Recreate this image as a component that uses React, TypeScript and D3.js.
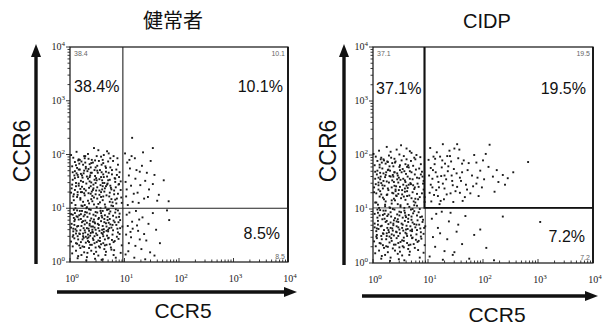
import React from "react";
import * as d3 from "d3";

// ---- data (log10 fluorescence: [CCR5, CCR6]) ----
const panelTitles = ["健常者", "CIDP"];
const xAxisLabel = "CCR5";
const yAxisLabel = "CCR6";
const tickExponents = [0, 1, 2, 3, 4];
const quadrantPercentsHealthy = ["38.4%", "10.1%", "8.5%"];
const quadrantPercentsCIDP = ["37.1%", "19.5%", "7.2%"];
const cornerValuesHealthy = ["38.4", "10.1", "8.5"];
const cornerValuesCIDP = ["37.1", "19.5", "7.2"];
const gateHealthy = [0.97, 1.0];
const gateCIDP = [0.95, 1.02];

const healthyLL = [
[0.12,0.85],[0.34,0.62],[0.57,0.91],[0.08,0.44],[0.71,0.73],[0.26,0.18],[0.49,0.37],[0.88,0.55],[0.15,0.67],[0.63,0.24],
[0.39,0.81],[0.05,0.29],[0.77,0.41],[0.22,0.95],[0.54,0.58],[0.31,0.09],[0.92,0.78],[0.18,0.52],[0.67,0.66],[0.44,0.15],
[0.03,0.71],[0.81,0.22],[0.29,0.47],[0.59,0.83],[0.13,0.34],[0.74,0.94],[0.41,0.56],[0.95,0.31],[0.24,0.76],[0.52,0.12],
[0.36,0.68],[0.09,0.91],[0.68,0.49],[0.47,0.27],[0.19,0.59],[0.85,0.69],[0.58,0.04],[0.27,0.88],[0.73,0.33],[0.11,0.21],
[0.45,0.74],[0.62,0.61],[0.33,0.39],[0.06,0.57],[0.79,0.86],[0.21,0.13],[0.55,0.45],[0.89,0.43],[0.38,0.97],[0.16,0.79],
[0.66,0.19],[0.28,0.55],[0.51,0.71],[0.02,0.38],[0.76,0.64],[0.43,0.88],[0.14,0.07],[0.61,0.35],[0.35,0.26],[0.83,0.92],
[0.25,0.63],[0.48,0.53],[0.07,0.82],[0.69,0.78],[0.42,0.44],[0.93,0.17],[0.17,0.31],[0.56,0.95],[0.31,0.73],[0.78,0.51],
[0.53,0.29],[0.2,0.89],[0.64,0.87],[0.1,0.61],[0.46,0.06],[0.87,0.62],[0.37,0.49],[0.6,0.67],[0.23,0.42],[0.75,0.27],
[0.04,0.16],[0.32,0.84],[0.7,0.57],[0.5,0.92],[0.14,0.48],[0.9,0.84],[0.4,0.32],[0.65,0.13],[0.27,0.7],[0.57,0.76],
[0.19,0.26],[0.8,0.37],[0.35,0.58],[0.08,0.69],[0.61,0.48],[0.44,0.79],[0.72,0.9],[0.29,0.36],[0.96,0.66],[0.52,0.63],
[0.13,0.96],[0.67,0.32],[0.39,0.21],[0.84,0.08],[0.22,0.74],[0.58,0.54],[0.06,0.5],[0.47,0.86],[0.74,0.7],[0.33,0.51],
[0.55,0.39],[0.17,0.87],[0.86,0.47],[0.42,0.66],[0.11,0.35],[0.63,0.8],[0.3,0.03],[0.79,0.59],[0.48,0.19],[0.24,0.53],
[0.7,0.44],[0.37,0.77],[0.02,0.64],[0.59,0.6],[0.91,0.52],[0.26,0.28],[0.45,0.64],[0.15,0.11],[0.68,0.97],[0.53,0.82],
[0.34,0.46],[0.82,0.74],[0.09,0.79],[0.64,0.42],[0.41,0.6],[0.2,0.37],[0.76,0.23],[0.5,0.5],[0.28,0.93],[0.57,0.33],
[0.12,0.58],[0.88,0.96],[0.43,0.41],[0.66,0.72],[0.32,0.17],[0.05,0.88],[0.72,0.63],[0.38,0.54],[0.21,0.67],[0.6,0.05],
[0.46,0.72],[0.25,0.45],[0.62,0.56],[0.8,0.13],[0.36,0.9]
];
const healthyUL = [
[0.14,1.62],[0.38,1.27],[0.61,1.84],[0.07,1.15],[0.83,1.49],[0.27,1.93],[0.52,1.08],[0.45,1.71],[0.19,1.36],[0.72,1.22],
[0.33,1.55],[0.04,1.78],[0.66,1.41],[0.91,1.67],[0.23,1.04],[0.57,1.96],[0.11,1.47],[0.79,1.88],[0.41,1.13],[0.29,1.74],
[0.68,1.59],[0.16,1.91],[0.48,1.33],[0.86,1.18],[0.36,1.82],[0.02,1.29],[0.59,1.52],[0.25,1.65],[0.74,1.76],[0.43,1.44],
[0.09,1.69],[0.54,1.25],[0.31,1.02],[0.77,1.63],[0.2,1.51],[0.64,1.07],[0.4,1.9],[0.93,1.34],[0.13,1.21],[0.5,1.79],
[0.35,1.38],[0.71,2.02],[0.06,1.94],[0.58,1.67],[0.26,1.28],[0.82,1.56],[0.46,1.6],[0.17,1.83],[0.63,1.31],[0.39,1.48],
[0.88,1.81],[0.22,1.4],[0.53,1.88],[0.1,1.06],[0.69,1.46],[0.32,1.69],[0.95,1.1],[0.44,1.2],[0.15,1.58],[0.76,1.35],
[0.28,1.85],[0.6,1.15],[0.05,1.53],[0.49,1.97],[0.81,1.26],[0.37,1.61],[0.18,1.72],[0.66,1.75],[0.42,1.34],[0.24,1.12],
[0.56,1.43],[0.12,2.05],[0.73,1.53],[0.34,1.92],[0.9,1.58],[0.47,1.26],[0.21,1.87],[0.62,1.99],[0.03,1.37],[0.78,1.11],
[0.3,1.46],[0.55,1.71],[0.14,1.3],[0.85,1.72],[0.4,1.66],[0.67,1.24],[0.09,1.86],[0.5,1.39],[0.26,1.97],[0.74,1.42],
[0.19,1.19],[0.61,1.63],[0.35,1.09],[0.8,1.97],[0.45,1.53],[0.08,1.61],[0.7,1.87],[0.29,1.33],[0.52,2.08],[0.16,1.46],
[0.93,1.5],[0.38,1.76],[0.64,1.37],[0.23,1.57],[0.02,1.99],[0.57,1.21],[0.84,1.39],[0.33,2.01],[0.48,1.56],[0.13,1.75],
[0.71,1.66],[0.27,1.24],[0.42,1.85],[0.6,1.47],[0.07,1.26],[0.87,1.93],[0.36,1.5],[0.2,1.64],[0.54,1.33],[0.76,1.05],
[0.44,2.12],[0.11,1.41],[0.65,1.78],[0.31,1.59],[0.83,1.16],[0.5,1.7],[0.24,1.81],[0.59,1.35],[0.15,1.89],[0.39,1.17],
[0.68,2.06],[0.05,1.67],[0.47,1.47],[0.73,1.29],[0.34,1.73],[0.57,1.58],[0.22,1.3],[0.89,1.44]
];
const healthyCore = [
[0.21,1.05],[0.47,0.93],[0.73,1.12],[0.09,1.34],[0.36,0.71],[0.62,1.58],[0.15,0.42],[0.84,0.98],[0.29,1.77],[0.55,0.27],
[0.41,1.23],[0.06,0.62],[0.69,0.84],[0.24,1.49],[0.51,1.66],[0.88,1.27],[0.18,0.95],[0.6,0.52],[0.33,1.14],[0.77,1.71],
[0.11,1.8],[0.45,0.35],[0.65,1.02],[0.27,0.59],[0.92,0.63],[0.38,1.41],[0.03,1.1],[0.57,1.3],[0.8,0.77],[0.2,0.8],
[0.49,1.52],[0.14,1.25],[0.71,0.45],[0.35,0.98],[0.6,1.9],[0.08,0.76],[0.42,0.55],[0.86,1.62],[0.26,1.36],[0.53,0.69],
[0.75,1.38],[0.17,0.53],[0.39,1.84],[0.63,0.74],[0.04,1.44],[0.3,1.0],[0.82,0.39],[0.5,1.18],[0.23,0.29],[0.68,1.44],
[0.12,1.65],[0.44,1.07],[0.79,1.04],[0.32,0.44],[0.58,0.86],[0.9,1.45],[0.19,1.16],[0.47,1.76],[0.7,0.6],[0.07,0.97],
[0.36,1.58],[0.61,1.22],[0.25,0.85],[0.85,0.83],[0.13,0.66],[0.52,0.4],[0.4,1.31],[0.74,1.93],[0.28,1.97],[0.56,1.0],
[0.02,0.89],[0.66,1.68],[0.31,0.63],[0.94,1.2],[0.47,0.6],[0.16,1.42],[0.78,0.69],[0.37,0.32],[0.6,1.41],[0.22,1.61],
[0.83,1.55],[0.1,1.0],[0.54,1.54],[0.34,1.28],[0.71,0.98],[0.45,0.48],[0.05,0.47],[0.64,0.31],[0.26,1.7],[0.89,0.74],
[0.42,0.75],[0.18,1.9],[0.58,1.81],[0.76,1.17],[0.31,0.92],[0.09,1.56],[0.49,1.02],[0.67,0.58],[0.38,1.66],[0.24,0.48],
[0.6,0.95],[0.14,0.84],[0.81,1.33],[0.43,1.37],[0.27,1.06],[0.7,1.52],[0.52,0.8],[0.06,1.22],[0.35,0.37],[0.91,0.9],
[0.2,1.3],[0.55,1.11],[0.73,0.8],[0.39,0.66],[0.11,0.53],[0.63,1.47],[0.46,1.89],[0.28,0.77],[0.85,1.09],[0.16,1.72]
];
const healthyUR = [
[1.05,1.85],[1.12,1.42],[1.28,1.68],[1.03,1.22],[1.19,1.93],[1.38,1.51],[1.08,1.61],[1.45,1.35],[1.15,1.12],[1.32,1.79],
[1.02,1.49],[1.24,1.29],[1.55,1.62],[1.1,1.74],[1.36,1.18],[1.2,1.55],[1.06,1.06],[1.48,1.88],[1.29,1.43],[1.63,1.25],
[1.13,1.97],[1.41,1.66],[1.04,1.35],[1.26,1.1],[1.52,1.45],[1.17,1.27],[1.72,1.52],[1.34,2.04],[1.09,1.9],[1.6,1.14],
[1.22,1.71],[1.43,1.21],[1.81,1.13],[1.52,2.12],[1.14,2.31],[1.01,2.02]
];
const healthyLR = [
[1.04,0.88],[1.15,0.62],[1.27,0.79],[1.08,0.35],[1.36,0.52],[1.02,0.14],[1.21,0.95],[1.44,0.71],[1.12,0.46],[1.31,0.24],
[1.06,0.67],[1.52,0.91],[1.18,0.08],[1.4,0.4],[1.25,0.58],[1.09,0.92],[1.58,0.6],[1.33,0.83],[1.03,0.51],[1.47,0.18],
[1.2,0.3],[1.82,0.78],[1.14,0.75],[1.38,0.05],[1.65,0.35],[1.28,0.42],[1.07,0.2],[1.55,0.12],[1.23,0.68],[1.78,0.96],
[1.11,0.56]
];

const cidpUL = [
[0.13,1.55],[0.37,1.29],[0.62,1.78],[0.06,1.12],[0.81,1.47],[0.26,1.88],[0.5,1.07],[0.44,1.66],[0.18,1.38],[0.7,1.2],
[0.32,1.6],[0.03,1.81],[0.65,1.45],[0.89,1.69],[0.22,1.05],[0.56,1.98],[0.1,1.49],[0.77,1.92],[0.4,1.16],[0.28,1.73],
[0.67,1.56],[0.15,1.95],[0.47,1.35],[0.85,1.22],[0.35,1.85],[0.02,1.31],[0.58,1.53],[0.24,1.68],[0.73,1.8],[0.42,1.42],
[0.08,1.71],[0.53,1.27],[0.3,1.03],[0.76,1.64],[0.19,1.52],[0.63,1.09],[0.39,1.93],[0.92,1.36],[0.12,1.23],[0.49,1.81],
[0.34,1.4],[0.7,2.04],[0.05,1.97],[0.57,1.7],[0.25,1.26],[0.8,1.58],[0.45,1.62],[0.16,1.86],[0.62,1.33],[0.38,1.5],
[0.87,1.83],[0.21,1.43],[0.52,1.9],[0.09,1.08],[0.68,1.48],[0.31,1.71],[0.94,1.13],[0.43,1.24],[0.14,1.6],[0.75,1.37],
[0.27,1.87],[0.59,1.17],[0.04,1.56],[0.48,2.01],[0.8,1.28],[0.36,1.63],[0.17,1.75],[0.65,1.77],[0.41,1.36],[0.23,1.14],
[0.55,1.45],[0.11,2.08],[0.72,1.55],[0.33,1.95],[0.9,1.6],[0.46,1.28],[0.2,1.9],[0.61,2.12],[0.02,1.4],[0.77,1.12],
[0.29,1.49],[0.54,1.74],[0.13,1.33],[0.84,1.75],[0.39,1.68],[0.66,1.25],[0.08,1.89],[0.49,1.41],[0.25,2.15],[0.73,1.44],
[0.18,1.21],[0.6,1.65],[0.34,1.1],[0.79,2.0],[0.44,1.55],[0.07,1.64],[0.69,1.89],[0.28,1.35],[0.51,2.18],[0.15,1.48],
[0.92,1.52],[0.37,1.79],[0.63,1.39],[0.22,1.59],[0.01,2.02],[0.56,1.23],[0.83,1.41],[0.32,2.06],[0.47,1.58],[0.12,1.77],
[0.7,1.68],[0.26,1.27],[0.41,1.88],[0.59,1.5],[0.06,1.29],[0.86,1.96],[0.35,1.53],[0.19,1.66],[0.53,1.35],[0.75,1.07],
[0.43,2.1],[0.1,1.44],[0.64,1.81],[0.3,1.61],[0.82,1.18],[0.49,1.72],[0.23,1.84],[0.58,1.38],[0.14,1.92],[0.38,1.19],
[0.67,2.07],[0.04,1.69],[0.46,1.49],[0.72,1.31]
];
const cidpCore = [
[0.22,1.08],[0.48,0.95],[0.74,1.14],[0.1,1.36],[0.37,0.73],[0.63,1.6],[0.16,0.44],[0.85,1.0],[0.3,1.79],[0.56,0.29],
[0.42,1.25],[0.07,0.64],[0.7,0.86],[0.25,1.51],[0.52,1.68],[0.89,1.29],[0.19,0.97],[0.61,0.54],[0.34,1.16],[0.78,1.73],
[0.12,1.82],[0.46,0.37],[0.66,1.04],[0.28,0.61],[0.93,0.65],[0.39,1.43],[0.04,1.12],[0.58,1.32],[0.81,0.79],[0.21,0.82],
[0.5,1.54],[0.15,1.27],[0.72,0.47],[0.36,1.0],[0.61,1.92],[0.09,0.78],[0.43,0.57],[0.87,1.64],[0.27,1.38],[0.54,0.71],
[0.76,1.4],[0.18,0.55],[0.4,1.86],[0.64,0.76],[0.05,1.46],[0.31,1.02],[0.83,0.41],[0.51,1.2],[0.24,0.31],[0.69,1.46],
[0.13,1.67],[0.45,1.09],[0.8,1.06],[0.33,0.46],[0.59,0.88],[0.91,1.47],[0.2,1.18],[0.48,1.78],[0.71,0.62],[0.08,0.99],
[0.37,1.6],[0.62,1.24],[0.26,0.87],[0.86,0.85],[0.14,0.68],[0.53,0.42],[0.41,1.33],[0.75,1.95],[0.29,1.99],[0.57,1.02],
[0.03,0.91],[0.67,1.7],[0.32,0.65],[0.94,1.22],[0.48,0.62],[0.17,1.44],[0.79,0.71],[0.38,0.34],[0.61,1.43],[0.23,1.63],
[0.84,1.57],[0.11,1.02],[0.55,1.56],[0.35,1.3],[0.72,1.0],[0.46,0.5],[0.06,0.49],[0.65,0.33],[0.27,1.72],[0.9,0.76],
[0.43,0.77],[0.19,1.92],[0.59,1.83],[0.77,1.19],[0.32,0.94],[0.1,1.58],[0.5,1.04],[0.68,0.6],[0.39,1.68],[0.25,0.5],
[1.08,1.4],[1.26,1.9],[1.45,1.44],[1.17,1.6],[1.62,1.84],[1.34,1.27],[1.05,1.76],[1.52,1.66],[1.9,1.58],[1.23,1.15],
[1.72,1.72],[1.4,1.98],[2.0,1.9],[1.13,1.93],[1.58,1.3],[2.25,1.72],[1.3,1.62],[1.82,1.42],[1.48,2.12],[2.4,1.45]
];
const cidpUR = [
[1.02,1.62],[1.15,1.35],[1.31,1.84],[1.06,1.14],[1.22,1.97],[1.44,1.52],[1.09,1.72],[1.53,1.41],[1.18,1.24],[1.37,1.79],
[1.01,1.91],[1.27,1.47],[1.62,1.68],[1.12,1.83],[1.41,1.29],[1.24,1.61],[1.05,1.45],[1.55,1.94],[1.33,1.55],[1.71,1.36],
[1.16,2.05],[1.47,1.74],[1.03,1.3],[1.29,1.18],[1.6,1.52],[1.2,1.4],[1.8,1.62],[1.39,2.08],[1.1,1.97],[1.67,1.22],
[1.25,1.77],[1.5,1.33],[1.88,1.47],[1.35,1.98],[1.57,2.1],[1.08,1.56],[1.74,1.85],[1.43,1.62],[1.95,1.71],[1.21,1.09],
[1.65,1.9],[1.3,1.38],[2.02,1.55],[1.14,1.68],[1.84,2.0],[1.46,1.13],[2.1,1.78],[1.58,1.58],[1.04,2.13],[1.77,1.29],
[2.18,1.6],[1.36,1.7],[1.92,1.24],[1.53,2.2],[2.28,1.5],[1.19,1.5],[2.05,2.02],[1.69,1.45],[2.36,1.63],[1.11,1.26],
[2.45,1.57],[1.88,1.86],[2.55,1.68],[1.42,1.88],[2.21,1.32],[1.63,1.15],[2.82,1.87],[2.12,2.19],[1.27,2.2],[1.98,1.4]
];
const cidpLR = [
[1.07,0.82],[1.22,0.55],[1.41,0.93],[1.13,0.3],[1.55,0.71],[1.03,0.12],[1.35,0.44],[1.68,0.87],[1.18,0.65],[1.48,0.2],
[1.27,0.06],[1.84,0.52],[1.09,0.48],[1.62,0.35],[1.38,0.77],[2.06,0.28],[1.25,0.95],[1.75,0.08],[2.36,0.86],[1.52,0.58],
[1.15,0.91],[1.95,0.62],[3.04,0.76],[1.3,0.22],[2.2,0.05],[1.45,0.15]
];
const cidpLL = [
[0.12,0.88],[0.35,0.64],[0.58,0.93],[0.07,0.46],[0.72,0.75],[0.27,0.2],[0.5,0.39],[0.87,0.57],[0.16,0.69],[0.64,0.26],
[0.4,0.83],[0.05,0.31],[0.78,0.43],[0.23,0.97],[0.55,0.6],[0.32,0.1],[0.91,0.8],[0.19,0.54],[0.68,0.68],[0.45,0.17],
[0.03,0.73],[0.82,0.24],[0.3,0.49],[0.6,0.85],[0.14,0.36],[0.75,0.96],[0.42,0.58],[0.94,0.33],[0.25,0.78],[0.53,0.14],
[0.37,0.7],[0.09,0.93],[0.69,0.51],[0.48,0.29],[0.2,0.61],[0.84,0.71],[0.57,0.05],[0.28,0.9],[0.74,0.35],[0.11,0.23],
[0.46,0.76],[0.63,0.63],[0.34,0.41],[0.06,0.59],[0.8,0.88],[0.22,0.15],[0.56,0.47],[0.88,0.45],[0.39,0.99],[0.17,0.81],
[0.67,0.21],[0.29,0.57],[0.52,0.73],[0.02,0.4],[0.77,0.66],[0.44,0.9],[0.15,0.08],[0.62,0.37],[0.36,0.27],[0.83,0.94],
[0.26,0.65],[0.49,0.55],[0.08,0.84],[0.7,0.8],[0.43,0.46],[0.92,0.19],[0.18,0.33],[0.57,0.97],[0.32,0.75],[0.79,0.53],
[0.54,0.31],[0.21,0.91],[0.65,0.89],[0.1,0.63],[0.47,0.07],[0.86,0.64],[0.38,0.51],[0.61,0.69],[0.24,0.44],[0.76,0.28],
[0.04,0.18],[0.33,0.86],[0.71,0.59],[0.51,0.94],[0.15,0.5],[0.89,0.86],[0.41,0.34],[0.66,0.15],[0.28,0.72],[0.58,0.78],
[0.2,0.28],[0.81,0.39],[0.36,0.6],[0.09,0.71],[0.62,0.5],[0.45,0.81],[0.73,0.92],[0.3,0.38],[0.95,0.68],[0.53,0.65],
[0.13,0.98],[0.68,0.34],[0.4,0.23],[0.85,0.1],[0.23,0.76],[0.59,0.56],[0.07,0.52],[0.48,0.88],[0.75,0.72],[0.34,0.53],
[0.56,0.41],[0.18,0.89],[0.87,0.49],[0.43,0.68],[0.12,0.37],[0.64,0.82],[0.31,0.04],[0.8,0.61],[0.49,0.21],[0.25,0.55],
[0.71,0.46],[0.38,0.79],[0.03,0.66],[0.6,0.62],[0.92,0.54],[0.27,0.3],[0.46,0.66],[0.16,0.13],[0.69,0.99],[0.54,0.84]
];

type P = number[][];

const SANS = "'Liberation Sans', Arial, sans-serif";
const SERIF = "'Liberation Serif', 'DejaVu Serif', serif";

function Arrow({ x1, y1, x2, y2 }: { x1: number; y1: number; x2: number; y2: number }) {
  const dx = x2 - x1, dy = y2 - y1;
  const len = Math.hypot(dx, dy);
  const ux = dx / len, uy = dy / len;
  const hl = 13, hw = 5;
  const bx = x2 - ux * hl, by = y2 - uy * hl;
  const pts = [
    [x2, y2],
    [bx - uy * hw, by + ux * hw],
    [bx + uy * hw, by - ux * hw],
  ];
  return (
    <g>
      <line x1={x1} y1={y1} x2={bx + ux * 2} y2={by + uy * 2} stroke="#111" strokeWidth={3.4} />
      <polygon points={pts.map((p) => p.join(",")).join(" ")} fill="#111" />
    </g>
  );
}

function Panel(props: {
  x0: number; x1: number; yTop: number; yBot: number;
  title: string; titleX: number; titleFont: string;
  groups: P[]; gate: number[]; percents: string[]; corners: string[];
  yArrowX: number; xArrowY: number; xArrowX0: number; xArrowX1: number;
  yLabelX: number; xLabelX: number; xLabelY: number; pctBase: number[]; pctX: number[];
  boxGate: boolean;
}) {
  const p = props;
  const xs = d3.scaleLog().domain([1, 1e4]).range([p.x0, p.x1]);
  const ys = d3.scaleLog().domain([1, 1e4]).range([p.yBot, p.yTop]);
  const ticks = xs.ticks();
  const isMajor = (t: number) => Math.abs(Math.log10(t) - Math.round(Math.log10(t))) < 1e-9;
  const gx = xs(Math.pow(10, p.gate[0]));
  const gy = ys(Math.pow(10, p.gate[1]));
  const all = p.groups.flat();
  return (
    <g>
      <text x={p.titleX} y={28} textAnchor="middle" fontFamily={p.titleFont} fontSize={20} fill="#111">{p.title}</text>
      {all.map((d, i) => (
        <rect key={i} x={xs(Math.pow(10, d[0])) - 0.95} y={ys(Math.pow(10, d[1])) - 0.95} width={1.9} height={1.9} fill="#1a1a1a" />
      ))}
      <rect x={p.x0} y={p.yTop} width={p.x1 - p.x0} height={p.yBot - p.yTop} fill="none" stroke="#111" strokeWidth={1.2} />
      <line x1={p.x1} y1={p.yTop} x2={p.x1} y2={p.yBot} stroke="#111" strokeWidth={1.8} />
      <line x1={gx} y1={p.yTop} x2={gx} y2={p.yBot} stroke="#222" strokeWidth={p.boxGate ? 0.8 : 1.1} />
      <line x1={p.x0} y1={gy} x2={p.x1} y2={gy} stroke="#222" strokeWidth={p.boxGate ? 0.8 : 1.1} />
      {p.boxGate && (
        <path d={`M${gx - 1},${p.yTop} L${gx - 1},${gy} L${p.x1},${gy}`} fill="none" stroke="#111" strokeWidth={1.6} />
      )}
      {ticks.map((t, i) => {
        const mj = isMajor(t);
        return (
          <g key={i}>
            <line x1={p.x0} x2={p.x0 - (mj ? 4 : 2.5)} y1={ys(t)} y2={ys(t)} stroke="#222" strokeWidth={0.9} />
            <line y1={p.yBot} y2={p.yBot - (mj ? 4 : 2.5)} x1={xs(t)} x2={xs(t)} stroke="#222" strokeWidth={0.9} />
          </g>
        );
      })}
      {tickExponents.map((e) => (
        <g key={e}>
          <text x={p.x0 - 5} y={ys(Math.pow(10, e)) + 3} textAnchor="end" fontFamily={SERIF} fontSize={10} fill="#222">
            10<tspan fontSize={7} dy={-4}>{e}</tspan>
          </text>
          <text x={xs(Math.pow(10, e)) + 2} y={p.yBot + 20} textAnchor="middle" fontFamily={SERIF} fontSize={10} fill="#222">
            10<tspan fontSize={7} dy={-4}>{e}</tspan>
          </text>
        </g>
      ))}
      <text x={p.pctX[0]} y={p.pctBase[0]} fontFamily={SANS} fontSize={16} fill="#111">{p.percents[0]}</text>
      <text x={p.pctX[1]} y={p.pctBase[0]} textAnchor="end" fontFamily={SANS} fontSize={16} fill="#111">{p.percents[1]}</text>
      <text x={p.pctX[2]} y={p.pctBase[1]} textAnchor="end" fontFamily={SANS} fontSize={16} fill="#111">{p.percents[2]}</text>
      <text x={p.x0 + 4} y={p.yTop + 9} fontFamily={SANS} fontSize={7} fill="#666">{p.corners[0]}</text>
      <text x={p.x1 - 3} y={p.yTop + 9} textAnchor="end" fontFamily={SANS} fontSize={7} fill="#666">{p.corners[1]}</text>
      <text x={p.x1 - 3} y={p.yBot - 3} textAnchor="end" fontFamily={SANS} fontSize={7} fill="#666">{p.corners[2]}</text>
      <Arrow x1={p.yArrowX} y1={p.yBot + 2} x2={p.yArrowX} y2={44} />
      <Arrow x1={p.xArrowX0} y1={p.xArrowY} x2={p.xArrowX1} y2={p.xArrowY} />
      <text transform={`translate(${p.yLabelX},151) rotate(-90)`} textAnchor="middle" fontFamily={SANS} fontSize={23} fill="#111">{yAxisLabel}</text>
      <text x={p.xLabelX} y={p.xLabelY} textAnchor="middle" fontFamily={SANS} fontSize={21} fill="#111">{xAxisLabel}</text>
    </g>
  );
}

export default function App() {
  return (
    <div style={{ position: "fixed", left: 0, top: 0, width: 603, height: 327, background: "#fff" }}>
      <svg width={603} height={327} viewBox="0 0 603 327">
        <rect width={603} height={327} fill="#fff" />
        <Panel
          x0={70} x1={288} yTop={47} yBot={262}
          title={panelTitles[0]} titleX={173} titleFont="'Noto Sans CJK JP', sans-serif"
          groups={[healthyLL, healthyUL, healthyCore, healthyUR, healthyLR]} gate={gateHealthy}
          percents={quadrantPercentsHealthy} corners={cornerValuesHealthy}
          yArrowX={36} xArrowY={292} xArrowX0={57} xArrowX1={297}
          yLabelX={30} xLabelX={183} xLabelY={318} pctBase={[92, 239]} pctX={[74, 283, 280]}
          boxGate={false}
        />
        <Panel
          x0={373} x1={593} yTop={47} yBot={263}
          title={panelTitles[1]} titleX={487} titleFont={SANS}
          groups={[cidpLL, cidpUL, cidpCore, cidpUR, cidpLR]} gate={gateCIDP}
          percents={quadrantPercentsCIDP} corners={cornerValuesCIDP}
          yArrowX={344} xArrowY={296} xArrowX0={362} xArrowX1={598}
          yLabelX={336} xLabelX={497} xLabelY={322} pctBase={[94, 242]} pctX={[376, 586, 585]}
          boxGate={true}
        />
      </svg>
    </div>
  );
}
